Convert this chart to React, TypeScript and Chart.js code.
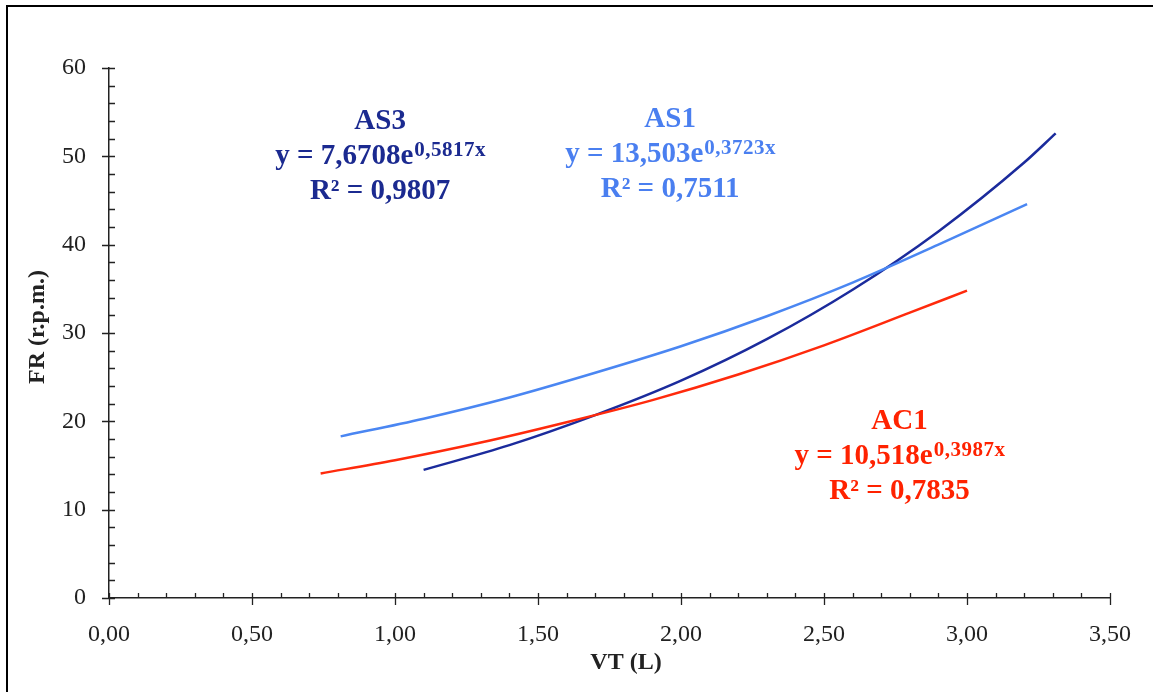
import React, { useEffect, useRef } from "react";
import { Chart, registerables } from "chart.js";

Chart.register(...registerables);

// ---- data ----
const as3X = [1.1, 1.4, 1.7, 2.0, 2.3, 2.6, 2.9, 3.2, 3.31];
const as3Y = [14.5, 17.3, 20.7, 24.6, 29.3, 34.9, 41.5, 49.3, 52.6];
const as1X = [0.81, 1.1, 1.4, 1.7, 2.0, 2.3, 2.6, 2.9, 3.21];
const as1Y = [18.3, 20.3, 22.7, 25.5, 28.5, 31.9, 35.7, 40.0, 44.6];
const ac1X = [0.74, 1.0, 1.3, 1.6, 1.9, 2.2, 2.5, 2.8, 3.0];
const ac1Y = [14.1, 15.6, 17.6, 19.9, 22.4, 25.3, 28.6, 32.3, 34.8];

const seriesNames = ["AS3", "AS1", "AC1"];
const coefs = ["7,6708", "13,503", "10,518"];
const exps = ["0,5817x", "0,3723x", "0,3987x"];
const r2s = ["0,9807", "0,7511", "0,7835"];

const xTitle = "VT (L)";
const yTitle = "FR (r.p.m.)";

// ---- styling ----
const FONT = '"Liberation Serif", "Times New Roman", serif';
const colors = ["#1b2b9c", "#4a86f2", "#ff2a0c"];
const textColors = ["#1b2a90", "#4a7ff0", "#ff2200"];
// label anchor (data coords: center x, baseline of first line)
const labelAnchors = [
  { x: 0.948, y: 53.1 },
  { x: 1.962, y: 53.3 },
  { x: 2.764, y: 19.1 },
];

const toPts = (xs: number[], ys: number[]) => xs.map((x, i) => ({ x, y: ys[i] }));

const decor = {
  id: "decor",
  afterDraw(chart: any) {
    const { ctx } = chart;
    const x = chart.scales.x;
    const y = chart.scales.y;
    const area = chart.chartArea;
    ctx.save();
    // frame
    ctx.strokeStyle = "#000";
    ctx.lineWidth = 2;
    ctx.strokeRect(7, 6, 1400, 1000);

    // ticks
    ctx.strokeStyle = "#222";
    ctx.lineWidth = 1.3;
    ctx.beginPath();
    for (let v = 0; v <= 60.001; v += 2) {
      const py = Math.round(y.getPixelForValue(v)) + 0.5;
      const major = Math.abs(v % 10) < 1e-6;
      ctx.moveTo(area.left - (major ? 7 : 0), py);
      ctx.lineTo(area.left + 6, py);
    }
    for (let i = 0; i <= 35; i++) {
      const v = i / 10;
      const px = Math.round(x.getPixelForValue(v)) + 0.5;
      const major = i % 5 === 0;
      ctx.moveTo(px, area.bottom - 5);
      ctx.lineTo(px, area.bottom + (major ? 7 : 0));
    }
    ctx.stroke();

    // axis titles
    ctx.fillStyle = "#222";
    ctx.font = `bold 24px ${FONT}`;
    ctx.textAlign = "center";
    ctx.textBaseline = "middle";
    ctx.fillText(xTitle, 626, 663);
    ctx.save();
    ctx.translate(38, 327);
    ctx.rotate(-Math.PI / 2);
    ctx.fillText(yTitle, 0, 0);
    ctx.restore();

    // trendline labels
    ctx.textBaseline = "alphabetic";
    seriesNames.forEach((name, i) => {
      const cx = x.getPixelForValue(labelAnchors[i].x);
      const by = y.getPixelForValue(labelAnchors[i].y);
      ctx.fillStyle = textColors[i];
      ctx.letterSpacing = "0px";
      ctx.font = `bold 29px ${FONT}`;
      ctx.textAlign = "center";
      ctx.fillText(name, cx, by);
      const base = `y = ${coefs[i]}e`;
      const wb = ctx.measureText(base).width;
      ctx.font = `bold 21px ${FONT}`;
      ctx.letterSpacing = "0.5px";
      const ws = ctx.measureText(exps[i]).width;
      ctx.letterSpacing = "0px";
      const left = cx - (wb + ws) / 2;
      ctx.textAlign = "left";
      ctx.font = `bold 29px ${FONT}`;
      ctx.fillText(base, left, by + 35);
      ctx.font = `bold 21px ${FONT}`;
      ctx.letterSpacing = "0.5px";
      ctx.fillText(exps[i], left + wb + 1, by + 35 - 8);
      ctx.letterSpacing = "0px";
      ctx.textAlign = "center";
      ctx.font = `bold 29px ${FONT}`;
      ctx.fillText(`R² = ${r2s[i]}`, cx, by + 70);
    });
    ctx.restore();
  },
};

export default function App() {
  const ref = useRef<HTMLCanvasElement | null>(null);
  useEffect(() => {
    if (!ref.current) return;
    const ds = (data: any, color: string) => ({
      data,
      borderColor: color,
      backgroundColor: color,
      borderWidth: 2.5,
      pointRadius: 0,
      fill: false,
      cubicInterpolationMode: "monotone" as const,
    });
    const chart = new Chart(ref.current, {
      type: "line",
      data: {
        datasets: [
          ds(toPts(as1X, as1Y), colors[1]),
          ds(toPts(ac1X, ac1Y), colors[2]),
          ds(toPts(as3X, as3Y), colors[0]),
        ],
      },
      options: {
        responsive: false,
        animation: false,
        layout: { padding: { top: 68, right: 40, left: 0, bottom: 0 } },
        plugins: { legend: { display: false }, tooltip: { enabled: false } },
        scales: {
          x: {
            type: "linear",
            min: 0,
            max: 3.5,
            ticks: {
              stepSize: 0.5,
              autoSkip: false,
              maxRotation: 0,
              padding: 22,
              color: "#222",
              font: { family: FONT, size: 24 },
              callback: (v: any) => Number(v).toFixed(2).replace(".", ","),
            },
            grid: { display: false, drawTicks: false },
            border: { display: true, color: "#222", width: 1.5 },
            afterFit: (s: any) => {
              s.height = 94;
            },
          },
          y: {
            type: "linear",
            min: 0,
            max: 60,
            ticks: {
              stepSize: 10,
              padding: 23,
              color: "#222",
              font: { family: FONT, size: 24 },
              callback: (v: any) => String(v),
            },
            grid: { display: false, drawTicks: false },
            border: { display: true, color: "#222", width: 1.5 },
            afterFit: (s: any) => {
              s.width = 109;
            },
          },
        },
      },
      plugins: [decor],
    });
    return () => chart.destroy();
  }, []);
  return (
    <div style={{ position: "fixed", left: 0, top: 0, width: 1153, height: 692, background: "#fff" }}>
      <canvas ref={ref} width={1153} height={692} style={{ display: "block" }} />
    </div>
  );
}
